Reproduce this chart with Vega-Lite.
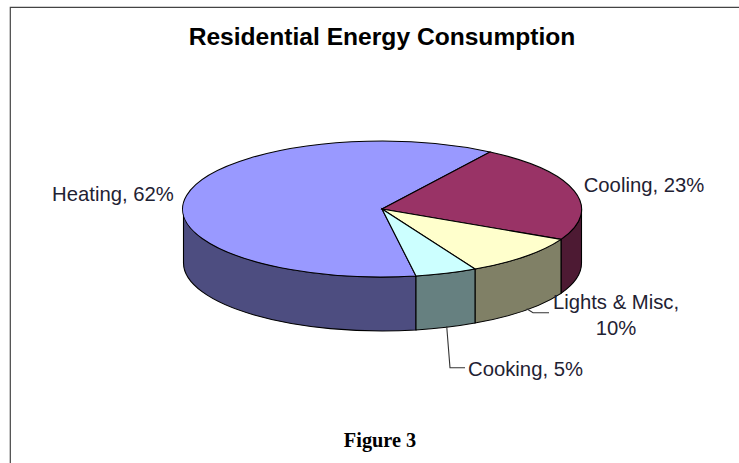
{
  "$schema": "https://vega.github.io/schema/vega-lite/v6.json",
  "autosize": {"type": "none"},
  "padding": {"left": 10, "top": 7, "right": 0, "bottom": 0},
  "width": 740,
  "height": 470,
  "background": "white",
  "view": {"stroke": "#444444", "strokeWidth": 1.2, "fill": "white"},
  "title": {"text": "Residential Energy Consumption", "font": "Liberation Sans", "fontSize": 24.6, "fontWeight": "bold", "color": "black", "anchor": "middle", "frame": "group", "baseline": "alphabetic", "orient": "top", "offset": -63, "dx": 2},
  "data": {"values": [
    {"category": "Heating", "share": 62, "label": "Heating, 62%"},
    {"category": "Cooling", "share": 23, "label": "Cooling, 23%"},
    {"category": "Lights & Misc", "share": 10, "label": "Lights & Misc,\n10%"},
    {"category": "Cooking", "share": 5, "label": "Cooking, 5%"}
  ]},
  "resolve": {"scale": {"x": "independent", "y": "independent", "color": "independent", "shape": "independent"}},
  "layer": [
    {
      "mark": {"type": "point", "filled": true, "size": 4, "opacity": 1, "stroke": "black", "strokeWidth": 1.1},
      "encoding": {
        "shape": {"field": "category", "type": "nominal", "legend": null, "scale": {
          "domain": ["Heating", "Cooling", "Lights & Misc", "Cooking"],
          "range": [
            "M-196.5,-33 A199,68 0 0,0 36,34 L36,88 A199,68 0 0,1 -196.5,21 Z",
            "M181,-2.6 A199,68 0 0,0 201.5,-33 L201.5,21 A199,68 0 0,1 181,51.4 Z",
            "M95,27 A199,68 0 0,0 181,-2.6 L181,51.4 A199,68 0 0,1 95,81 Z",
            "M36,34 A199,68 0 0,0 95,27 L95,81 A199,68 0 0,1 36,88 Z"
          ]}},
        "color": {"field": "category", "type": "nominal", "legend": null, "scale": {
          "domain": ["Heating", "Cooling", "Lights & Misc", "Cooking"],
          "range": ["#4d4d80", "#4d1a33", "#808066", "#668080"]}}
      }
    },
    {
      "mark": {"type": "point", "filled": true, "size": 4, "opacity": 1, "stroke": "black", "strokeWidth": 1.1},
      "encoding": {
        "shape": {"field": "category", "type": "nominal", "legend": null, "scale": {
          "domain": ["Heating", "Cooling", "Lights & Misc", "Cooking"],
          "range": [
            "M2,-33 L36,34 A199,68 0 1,1 110,-90 Z",
            "M2,-33 L110,-90 A199,68 0 0,1 181,-2.6 Z",
            "M2,-33 L181,-2.6 A199,68 0 0,1 95,27 Z",
            "M2,-33 L95,27 A199,68 0 0,1 36,34 Z"
          ]}},
        "color": {"field": "category", "type": "nominal", "legend": null, "scale": {
          "domain": ["Heating", "Cooling", "Lights & Misc", "Cooking"],
          "range": ["#9999ff", "#993366", "#ffffcc", "#ccffff"]}}
      }
    },
    {
      "transform": [{"filter": {"field": "category", "oneOf": ["Lights & Misc", "Cooking"]}}],
      "mark": {"type": "point", "filled": false, "size": 4, "opacity": 1, "stroke": "#333333", "strokeWidth": 1.1},
      "encoding": {
        "shape": {"field": "category", "type": "nominal", "legend": null, "scale": {
          "domain": ["Lights & Misc", "Cooking"],
          "range": [
            "M146.7,66.7 L153,70.7 L169,70.7",
            "M66.7,84.3 L70,125.7 L85,125.7"
          ]}}
      }
    },
    {
      "mark": {"type": "text", "font": "Liberation Sans", "fontSize": 20.3, "color": "#1f2233", "align": "center", "baseline": "middle", "lineBreak": "\n", "lineHeight": 26},
      "encoding": {
        "text": {"field": "label", "type": "nominal"},
        "x": {"field": "share", "type": "quantitative", "axis": null, "scale": {"domain": [5, 10, 23, 62], "range": [515.5, 606, 634, 103]}},
        "y": {"field": "share", "type": "quantitative", "axis": null, "scale": {"domain": [5, 10, 23, 62], "range": [363, 296, 179, 187.5]}}
      }
    },
    {
      "data": {"values": [{"caption": "Figure 3"}]},
      "mark": {"type": "text", "font": "Liberation Serif", "fontSize": 20.3, "fontWeight": "bold", "color": "black", "align": "center", "baseline": "middle"},
      "encoding": {
        "text": {"field": "caption", "type": "nominal"},
        "y": {"field": "caption", "type": "nominal", "axis": null, "scale": {"range": [434, 434]}}
      }
    }
  ]
}
